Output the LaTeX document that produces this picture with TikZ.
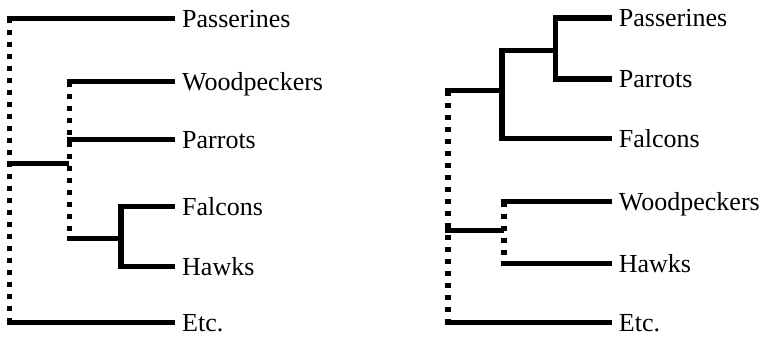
\documentclass[tikz,border=0pt]{standalone}
\usepackage{fontspec}
\setmainfont{Liberation Serif}
\begin{document}
\begin{tikzpicture}[x=1pt,y=-1pt]
\tikzset{taxon/.style = {anchor=west,inner xsep=7pt,inner ysep=0pt,text height=17.4pt,text depth=0pt,font=\rmfamily\fontsize{26}{30}\selectfont}}
\tikzset{branch/.style = {line width=5.3pt,shorten <=-2.6pt}}
\tikzset{joint/.style = {line width=5.3pt,line cap=rect}}
\tikzset{stem/.style = {line width=5.3pt,dash pattern=on 5pt off 7pt}}
\useasboundingbox (0,0) rectangle (769,338);
% left tree
\node[taxon] (lP) at (175,18.3) {Passerines};
\node[taxon] (lW) at (175,81.7) {Woodpeckers};
\node[taxon] (lPr) at (175,139.7) {Parrots};
\node[taxon] (lF) at (175,206.7) {Falcons};
\node[taxon] (lH) at (175,266.7) {Hawks};
\node[taxon] (lE) at (175,322.8) {Etc.};
\coordinate (lroot) at (9.2,163.3);
\coordinate (lin) at (69.2,163.3);
\coordinate (lfh) at (121,238.7);
\draw[stem] (lroot |- lP) -- (lroot |- lE);
\draw[branch] (lroot |- lP) -- (lP.west);
\draw[branch] (lroot |- lE) -- (lE.west);
\draw[branch] (lroot) -- (lin);
\draw[stem] (lin |- lW) -- (lin |- lfh);
\draw[branch] (lin |- lW) -- (lW.west);
\draw[branch] (lin |- lPr) -- (lPr.west);
\draw[branch] (lin |- lfh) -- (lfh);
\draw[joint] (lfh |- lF) -- (lfh |- lH);
\draw[branch] (lfh |- lF) -- (lF.west);
\draw[branch] (lfh |- lH) -- (lH.west);
% right tree
\node[taxon] (rP) at (611.7,18) {Passerines};
\node[taxon] (rPr) at (611.7,79) {Parrots};
\node[taxon] (rF) at (611.7,138.7) {Falcons};
\node[taxon] (rW) at (611.7,201.5) {Woodpeckers};
\node[taxon] (rH) at (611.7,263.5) {Hawks};
\node[taxon] (rE) at (611.7,322.5) {Etc.};
\coordinate (rroot) at (448,90.8);
\coordinate (rlow) at (448,230.8);
\coordinate (rpf) at (502,50.8);
\coordinate (rpp) at (555.5,50.8);
\coordinate (rwh) at (504,230.8);
\draw[stem] (rroot) -- (rroot |- rE);
\draw[branch] (rroot |- rE) -- (rE.west);
\draw[branch] (rroot) -- (rroot -| rpf);
\draw[joint] (rpf) -- (rpf |- rF);
\draw[branch] (rpf |- rF) -- (rF.west);
\draw[branch] (rpf) -- (rpp);
\draw[joint] (rpp |- rP) -- (rpp |- rPr);
\draw[branch] (rpp |- rP) -- (rP.west);
\draw[branch] (rpp |- rPr) -- (rPr.west);
\draw[branch] (rlow) -- (rwh);
\draw[stem] (rwh |- rW) -- (rwh |- rH);
\draw[branch] (rwh |- rW) -- (rW.west);
\draw[branch] (rwh |- rH) -- (rH.west);
\end{tikzpicture}
\end{document}
